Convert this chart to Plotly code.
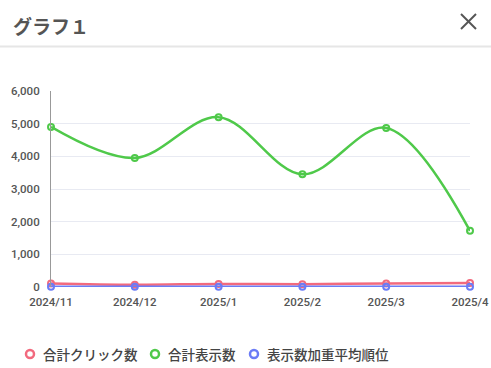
import plotly.graph_objects as go

months = ["2024/11", "2024/12", "2025/1", "2025/2", "2025/3", "2025/4"]
clicks = [110, 70, 95, 85, 110, 125]
impressions = [4900, 3950, 5200, 3450, 4870, 1720]
avg_rank = [10, 9, 8, 9, 8, 9]

series_names = ["合計クリック数", "合計表示数", "表示数加重平均順位"]
series_values = [clicks, impressions, avg_rank]
series_colors = ["#f26a7e", "#4fc94a", "#6b7cf6"]

fig = go.Figure()
for name, vals, col in zip(series_names, series_values, series_colors):
    fig.add_trace(go.Scatter(
        x=months, y=vals, name=name, mode="lines+markers", showlegend=False,
        line=dict(color=col, width=2.5, shape="spline", smoothing=1.0),
        marker=dict(symbol="circle-open", size=6, color=col, line=dict(width=2, color=col)),
        cliponaxis=False,
    ))

def px(xp):
    return (xp - 51) / 419
def py(yp):
    return (287 - yp) / 196

tickfont = dict(size=11.5, color="#555", family="Roboto, sans-serif", weight=500)

fig.update_layout(
    width=491, height=368,
    margin=dict(l=51, r=21, t=91, b=81, autoexpand=False),
    paper_bgcolor="white", plot_bgcolor="white",
    font=dict(family="Roboto, 'Noto Sans CJK JP', sans-serif", color="#555"),
    showlegend=False,
    xaxis=dict(showgrid=False, showline=False, zeroline=False, ticks="", automargin=False,
               tickfont=tickfont, fixedrange=True, range=[0, 5], ticklabelstandoff=6),
    yaxis=dict(range=[0, 6000], dtick=1000, tickformat=",", gridcolor="#e8eaf2", gridwidth=1,
               showline=True, linecolor="#999", linewidth=1, zeroline=False, automargin=False,
               tickfont=tickfont, ticks="", ticklabelstandoff=8),
)
fig.add_annotation(text="グラフ１", x=px(11), y=py(25.5), xref="paper", yref="paper",
                   showarrow=False, xanchor="left", yanchor="middle",
                   font=dict(size=19, color="#555", family="'Noto Sans CJK JP', sans-serif", weight=700))

# legend drawn manually (circle + label) to match spacing
legend_x = [30, 155, 254]
for name, col, lx in zip(series_names, series_colors, legend_x):
    fig.add_shape(type="circle", xref="paper", yref="paper",
                  x0=px(lx - 4), x1=px(lx + 4), y0=py(354 + 4), y1=py(354 - 4),
                  line=dict(color=col, width=2.5), fillcolor="white")
    fig.add_annotation(text=name, x=px(lx + 11), y=py(353.5), xref="paper", yref="paper",
                       showarrow=False, xanchor="left", yanchor="middle",
                       font=dict(size=13.5, color="#444", family="'Noto Sans CJK JP', sans-serif", weight=500))

fig.add_shape(type="line", xref="paper", yref="paper", x0=px(0), x1=px(491), y0=py(46.5), y1=py(46.5),
              line=dict(color="#e6e6e6", width=2))
fig.add_shape(type="line", xref="paper", yref="paper", x0=px(461), x1=px(476), y0=py(14), y1=py(29),
              line=dict(color="#555", width=2))
fig.add_shape(type="line", xref="paper", yref="paper", x0=px(461), x1=px(476), y0=py(29), y1=py(14),
              line=dict(color="#555", width=2))

fig.write_html("out.html")
